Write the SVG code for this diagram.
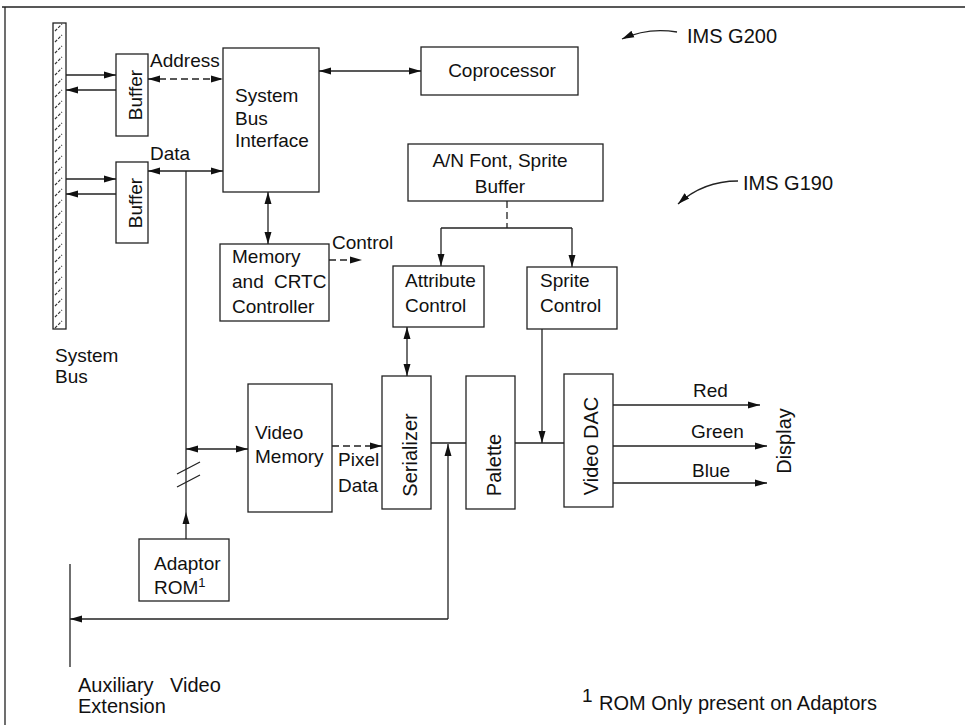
<svg xmlns="http://www.w3.org/2000/svg" width="965" height="725" viewBox="0 0 965 725">
<style>
text{font-family:"Liberation Sans",Arial,sans-serif;font-size:19px;fill:#111}
.box{fill:#fff;stroke:#222;stroke-width:1.3}
.ln{fill:none;stroke:#222;stroke-width:1.3}
.dash{stroke-dasharray:7 4}
.a{marker-end:url(#ah)}
.b{marker-start:url(#ahs);marker-end:url(#ah)}
.big{font-size:20px}
.mid{text-anchor:middle}
</style>
<defs>
<marker id="ah" markerUnits="userSpaceOnUse" markerWidth="14" markerHeight="10" refX="12" refY="5" orient="auto">
<path d="M0,1.5 L12,5 L0,8.5 Z" fill="#111"/>
</marker>
<marker id="ahs" markerUnits="userSpaceOnUse" markerWidth="14" markerHeight="10" refX="0" refY="5" orient="auto">
<path d="M12,1.5 L0,5 L12,8.5 Z" fill="#111"/>
</marker>
<pattern id="hatch" patternUnits="userSpaceOnUse" width="13" height="11">
<path d="M3,9 L10,2" stroke="#333" stroke-width="1.2" stroke-dasharray="3 1.5"/>
</pattern>
</defs>

<g id="frame">
<path class="ln" d="M2,7 H965 M5,7 V725"/>
</g>

<g id="system-bus">
<rect x="53" y="23" width="13" height="306" fill="url(#hatch)" stroke="#222" stroke-width="1.3"/>
<text x="55" y="362">System</text>
<text x="55" y="383">Bus</text>
</g>

<g id="buffer1">
<rect class="box" x="116" y="54" width="32" height="82"/>
<text class="mid" transform="translate(142,95) rotate(-90)">Buffer</text>
</g>
<g id="buffer2">
<rect class="box" x="116" y="162" width="32" height="81"/>
<text class="mid" transform="translate(142,203) rotate(-90)">Buffer</text>
</g>

<g id="sbi">
<rect class="box" x="223" y="48" width="96" height="144"/>
<text x="235" y="102">System</text>
<text x="235" y="125">Bus</text>
<text x="235" y="147">Interface</text>
</g>

<g id="coprocessor">
<rect class="box" x="421" y="47" width="157" height="48"/>
<text class="mid" x="502" y="77">Coprocessor</text>
</g>

<g id="an-font">
<rect class="box" x="408" y="144" width="195" height="57"/>
<text class="mid" x="500" y="167">A/N Font, Sprite</text>
<text class="mid" x="500" y="193">Buffer</text>
</g>

<g id="memctl">
<rect class="box" x="220" y="244" width="109" height="77"/>
<text x="232" y="263">Memory</text>
<text x="232" y="288">and<tspan x="274">CRTC</tspan></text>
<text x="232" y="313">Controller</text>
</g>

<g id="attribute">
<rect class="box" x="393" y="266" width="91" height="61"/>
<text x="405" y="287">Attribute</text>
<text x="405" y="312">Control</text>
</g>

<g id="sprite">
<rect class="box" x="527" y="267" width="90" height="62"/>
<text x="540" y="287">Sprite</text>
<text x="540" y="312">Control</text>
</g>

<g id="video-memory">
<rect class="box" x="248" y="384" width="84" height="128"/>
<text x="255" y="439">Video</text>
<text x="255" y="463">Memory</text>
</g>

<g id="serializer">
<rect class="box" x="382" y="376" width="49" height="133"/>
<text class="mid big" transform="translate(417,455) rotate(-90)">Serializer</text>
</g>

<g id="palette">
<rect class="box" x="466" y="376" width="49" height="133"/>
<text class="mid big" transform="translate(501,465) rotate(-90)">Palette</text>
</g>

<g id="video-dac">
<rect class="box" x="564" y="374" width="49" height="133"/>
<text class="mid big" transform="translate(598,446) rotate(-90)">Video DAC</text>
</g>

<g id="display">
<text class="mid big" transform="translate(791,441) rotate(-90)">Display</text>
</g>

<g id="adaptor-rom">
<rect class="box" x="139" y="539" width="90" height="62"/>
<text x="154" y="570">Adaptor</text>
<text x="154" y="594">ROM<tspan font-size="13" dy="-7">1</tspan></text>
</g>

<g id="aux-video">
<text class="big" x="78" y="692">Auxiliary<tspan x="170">Video</tspan></text>
<text class="big" x="78" y="713">Extension</text>
</g>

<g id="ims-g200">
<text class="big" x="687" y="43">IMS G200</text>
</g>
<g id="ims-g190">
<text class="big" x="743" y="190">IMS G190</text>
</g>

<g id="footnote">
<text font-size="14" x="582" y="702">1</text>
<text class="big" x="599" y="710">ROM Only present on Adaptors</text>
</g>

<g id="labels">
<text x="150" y="67">Address</text>
<text x="150" y="160">Data</text>
<text x="332" y="249">Control</text>
<text x="338" y="466">Pixel</text>
<text x="338" y="492">Data</text>
<text x="693" y="397">Red</text>
<text x="691" y="438">Green</text>
<text x="692" y="477">Blue</text>
</g>

<g id="connectors">
<!-- bus to buffers -->
<path class="ln a" d="M66,75 H116"/>
<path class="ln a" d="M116,90 H66"/>
<path class="ln a" d="M66,179 H116"/>
<path class="ln a" d="M116,194 H66"/>
<!-- address / data -->
<path class="ln b dash" d="M148,79 H223"/>
<path class="ln b" d="M148,171 H223"/>
<!-- SBI to coprocessor -->
<path class="ln b" d="M319,71 H421"/>
<!-- SBI to memory controller -->
<path class="ln b" d="M268,192 V244"/>
<!-- control -->
<path class="ln a dash" d="M329,260 H362"/>
<!-- data vertical bus -->
<path class="ln" d="M186,171 V512"/>
<path class="ln a" d="M186,539 V512"/>
<path class="ln" d="M177,474 L200,462 M177,487 L200,475"/>
<!-- video memory -->
<path class="ln b" d="M186,449 H248"/>
<!-- pixel data -->
<path class="ln a dash" d="M332,446 H382"/>
<!-- A/N font buffer to controls -->
<path class="ln dash" d="M507,201 V228"/>
<path class="ln" d="M441,228 H572"/>
<path class="ln a" d="M441,228 V266"/>
<path class="ln a" d="M572,228 V267"/>
<!-- attribute to serializer -->
<path class="ln b" d="M407,327 V376"/>
<!-- pipeline -->
<path class="ln" d="M431,443 H466"/>
<path class="ln" d="M515,443 H564"/>
<path class="ln a" d="M542,329 V443"/>
<!-- auxiliary video -->
<path class="ln a" d="M448,619 V444"/>
<path class="ln a" d="M448,619 H70"/>
<path class="ln" d="M70,564 V667"/>
<!-- RGB outputs -->
<path class="ln a" d="M613,405 H760"/>
<path class="ln a" d="M613,446 H767"/>
<path class="ln a" d="M613,483 H767"/>
<!-- IMS pointers -->
<path class="ln a" d="M677,32 Q648,27 622,39"/>
<path class="ln a" d="M738,181 Q703,181 678,204"/>
</g>
</svg>
